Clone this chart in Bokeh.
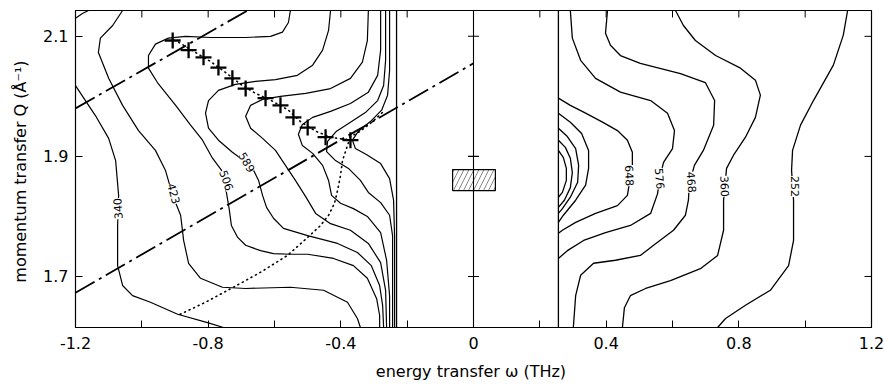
from math import pi
from bokeh.plotting import figure
from bokeh.models import Range1d, FixedTicker, Span, Label, PrintfTickFormatter
from bokeh.embed import file_html
from bokeh.resources import INLINE

# ---------------- axes ----------------
omega_range = [-1.2, 1.2]
q_range = [1.615, 2.143]
omega_ticks = [-1.2, -0.8, -0.4, 0.0, 0.4, 0.8, 1.2]
omega_minor_ticks = [-1.0, -0.6, -0.2, 0.2, 0.6, 1.0]
omega_all_ticks = [-1.2, -1.0, -0.8, -0.6, -0.4, -0.2, 0.0, 0.2, 0.4, 0.6, 0.8, 1.0, 1.2]
q_ticks = [1.7, 1.9, 2.1]

# ---------------- excluded elastic region / resolution ----------------
gap_edges = [-0.232, 0.256]
centre_omega = [0.0, 0.0, 0.0]
centre_ticks_q = [1.7, 1.9, 2.1]
res_omega = [-0.063, 0.066]
res_q = [1.843, 1.878]

# ---------------- contours, energy loss side (omega < 0) ----------------
cA_w = [-1.200, -1.179, -1.161]
cA_q = [2.130, 2.138, 2.143]

c340_w = [-1.200, -1.140, -1.100, -1.079, -1.070, -1.073, -1.073, -1.058, -1.028, -0.974, -0.892, -0.802, -0.754]
c340_q = [2.018, 1.968, 1.930, 1.893, 1.835, 1.785, 1.718, 1.685, 1.668, 1.657, 1.637, 1.623, 1.615]

c423_w = [-1.058, -1.088, -1.125, -1.131, -1.100, -1.058, -1.010, -0.959, -0.929, -0.907, -0.883, -0.874,
          -0.859, -0.823, -0.757, -0.687, -0.552, -0.452, -0.380, -0.350, -0.341]
c423_q = [2.143, 2.118, 2.097, 2.073, 2.030, 1.985, 1.943, 1.910, 1.877, 1.835, 1.802, 1.760,
          1.722, 1.697, 1.682, 1.680, 1.682, 1.677, 1.657, 1.630, 1.615]

c506_w = [-0.552, -0.558, -0.576, -0.612, -0.687, -0.793, -0.868, -0.920, -0.959, -0.980, -0.980, -0.953,
          -0.898, -0.853, -0.817, -0.787, -0.760, -0.745, -0.736, -0.730, -0.711, -0.687, -0.642, -0.603,
          -0.552, -0.500, -0.422, -0.362, -0.320, -0.292, -0.283, -0.283]
c506_q = [2.143, 2.123, 2.107, 2.100, 2.098, 2.098, 2.100, 2.097, 2.087, 2.068, 2.047, 2.023,
          1.985, 1.952, 1.927, 1.897, 1.877, 1.840, 1.810, 1.785, 1.765, 1.752, 1.743, 1.738,
          1.737, 1.737, 1.730, 1.718, 1.697, 1.663, 1.635, 1.615]

c589_w = [-0.431, -0.437, -0.455, -0.485, -0.531, -0.597, -0.657, -0.718, -0.769, -0.799, -0.808, -0.799,
          -0.769, -0.727, -0.693, -0.666, -0.648, -0.636, -0.624, -0.603, -0.573, -0.500, -0.410, -0.350,
          -0.308, -0.283, -0.274, -0.271]
c589_q = [2.143, 2.110, 2.077, 2.052, 2.035, 2.028, 2.025, 2.020, 2.010, 1.993, 1.972, 1.947,
          1.927, 1.907, 1.893, 1.880, 1.860, 1.835, 1.815, 1.797, 1.780, 1.768, 1.755, 1.740,
          1.718, 1.685, 1.652, 1.615]

c672_w = [-0.317, -0.320, -0.335, -0.371, -0.431, -0.506, -0.582, -0.636, -0.672, -0.687, -0.672, -0.636,
          -0.597, -0.567, -0.537, -0.506, -0.476, -0.431, -0.371, -0.317, -0.280, -0.265, -0.262]
c672_q = [2.143, 2.093, 2.057, 2.030, 2.013, 2.005, 2.000, 1.995, 1.985, 1.967, 1.947, 1.930,
          1.910, 1.885, 1.860, 1.833, 1.805, 1.788, 1.777, 1.755, 1.723, 1.677, 1.615]

c755_w = [-0.280, -0.280, -0.289, -0.317, -0.371, -0.431, -0.485, -0.516, -0.528, -0.516, -0.485, -0.455,
          -0.437, -0.428, -0.401, -0.362, -0.320, -0.280, -0.262, -0.253, -0.253]
c755_q = [2.143, 2.077, 2.035, 2.007, 1.988, 1.975, 1.965, 1.953, 1.937, 1.918, 1.905, 1.885,
          1.860, 1.835, 1.822, 1.813, 1.800, 1.773, 1.727, 1.668, 1.615]

c838_w = [-0.265, -0.265, -0.271, -0.289, -0.326, -0.371, -0.413, -0.440, -0.443, -0.416, -0.377, -0.341,
          -0.317, -0.280, -0.253, -0.244, -0.244, -0.244]
c838_q = [2.143, 2.060, 2.018, 1.993, 1.973, 1.957, 1.942, 1.925, 1.908, 1.893, 1.880, 1.860,
          1.840, 1.823, 1.802, 1.768, 1.693, 1.615]

c921_w = [-0.253, -0.253, -0.259, -0.277, -0.311, -0.347, -0.365, -0.356, -0.323, -0.280, -0.253, -0.241,
          -0.238, -0.238]
c921_q = [2.143, 2.043, 2.002, 1.977, 1.958, 1.942, 1.927, 1.913, 1.903, 1.888, 1.863, 1.827,
          1.768, 1.615]

# ---------------- contours, energy gain side (omega > 0) ----------------
c252_w = [1.128, 1.115, 1.085, 1.025, 0.986, 0.962, 0.959, 0.965, 0.965, 0.950, 0.895, 0.820, 0.760, 0.736]
c252_q = [2.143, 2.102, 2.052, 1.993, 1.952, 1.910, 1.877, 1.827, 1.760, 1.718, 1.677, 1.652, 1.630, 1.615]

c360_w = [0.609, 0.633, 0.669, 0.730, 0.805, 0.850, 0.865, 0.850, 0.820, 0.784, 0.763, 0.754, 0.754,
          0.736, 0.684, 0.594, 0.519, 0.473, 0.455, 0.449]
c360_q = [2.143, 2.118, 2.093, 2.068, 2.047, 2.027, 2.002, 1.965, 1.932, 1.902, 1.880, 1.827, 1.777,
          1.735, 1.713, 1.693, 1.680, 1.668, 1.648, 1.615]

c468_w = [0.404, 0.398, 0.413, 0.443, 0.503, 0.624, 0.699, 0.727, 0.724, 0.693, 0.666, 0.651, 0.648,
          0.639, 0.603, 0.543, 0.503, 0.428, 0.362, 0.323, 0.308, 0.301]
c468_q = [2.143, 2.105, 2.085, 2.068, 2.055, 2.038, 2.023, 1.993, 1.952, 1.910, 1.885, 1.855, 1.827,
          1.802, 1.777, 1.752, 1.735, 1.727, 1.722, 1.702, 1.668, 1.615]

c576_w = [0.292, 0.298, 0.323, 0.368, 0.443, 0.534, 0.585, 0.606, 0.600, 0.573, 0.561, 0.555, 0.534,
          0.473, 0.398, 0.332, 0.283, 0.256]
c576_q = [2.143, 2.097, 2.060, 2.030, 2.007, 1.993, 1.972, 1.943, 1.913, 1.890, 1.863, 1.838, 1.805,
          1.785, 1.773, 1.760, 1.743, 1.730]

c648_w = [0.256, 0.292, 0.338, 0.389, 0.434, 0.464, 0.479, 0.479, 0.464, 0.434, 0.368, 0.308, 0.268, 0.256]
c648_q = [1.997, 1.985, 1.972, 1.957, 1.943, 1.927, 1.907, 1.885, 1.835, 1.818, 1.805, 1.790, 1.777, 1.772]

cin4_w = [0.256, 0.292, 0.326, 0.347, 0.347, 0.338, 0.308, 0.271, 0.256]
cin4_q = [1.972, 1.957, 1.938, 1.910, 1.880, 1.852, 1.827, 1.802, 1.790]
cin3_w = [0.256, 0.283, 0.308, 0.317, 0.314, 0.292, 0.268, 0.256]
cin3_q = [1.947, 1.933, 1.913, 1.885, 1.857, 1.832, 1.813, 1.805]
cin2_w = [0.256, 0.277, 0.292, 0.298, 0.292, 0.274, 0.256]
cin2_q = [1.927, 1.915, 1.897, 1.873, 1.848, 1.827, 1.815]
cin1_w = [0.256, 0.271, 0.280, 0.280, 0.268, 0.256]
cin1_q = [1.910, 1.898, 1.880, 1.860, 1.840, 1.832]

# ---------------- contour labels ----------------
left_labels = ["340", "423", "506", "589"]
left_label_w = [-1.072, -0.904, -0.745, -0.684]
left_label_q = [1.813, 1.838, 1.860, 1.890]
right_labels = ["648", "576", "468", "360", "252"]
right_label_w = [0.470, 0.561, 0.657, 0.757, 0.968]
right_label_q = [1.868, 1.863, 1.857, 1.850, 1.850]

# ---------------- measured peak positions (crosses) ----------------
peak_w = [-0.907, -0.859, -0.814, -0.769, -0.727, -0.687, -0.627, -0.582, -0.543, -0.500, -0.446, -0.371]
peak_q = [2.093, 2.077, 2.065, 2.048, 2.030, 2.013, 1.997, 1.985, 1.965, 1.948, 1.932, 1.927]

# ---------------- dotted dispersion curves ----------------
disp1_w = [-0.889, -0.838, -0.793, -0.748, -0.702, -0.657, -0.606, -0.558, -0.522, -0.476, -0.431,
           -0.386, -0.341, -0.304, -0.271]
disp1_q = [2.090, 2.073, 2.058, 2.040, 2.020, 2.005, 1.992, 1.977, 1.958, 1.942, 1.932,
           1.928, 1.942, 1.958, 1.975]
disp2_w = [-0.377, -0.395, -0.401, -0.410, -0.419, -0.437, -0.461, -0.500, -0.561, -0.642, -0.724, -0.808, -0.892]
disp2_q = [1.923, 1.893, 1.868, 1.843, 1.822, 1.802, 1.785, 1.765, 1.735, 1.707, 1.682, 1.657, 1.635]

# ---------------- dash-dot scan lines ----------------
scan1_w = [-1.2, -0.681]
scan1_q = [1.980, 2.143]
scan2_w = [-1.2, 0.0]
scan2_q = [1.673, 2.055]

# ======================================================
FONT = "DejaVu Sans"
p = figure(width=884, height=387, output_backend="svg", toolbar_location=None,
           x_range=Range1d(*omega_range), y_range=Range1d(*q_range),
           min_border_left=75, min_border_right=13, min_border_top=10, min_border_bottom=60)
p.background_fill_color = "white"
p.border_fill_color = "white"
p.outline_line_color = "black"
p.outline_line_width = 1.2
p.grid.visible = False

p.xaxis.ticker = FixedTicker(ticks=omega_ticks, minor_ticks=omega_minor_ticks)
p.xaxis.formatter = PrintfTickFormatter(format="%.1f")
p.xaxis.major_label_overrides = {0: "0"}
p.yaxis.ticker = FixedTicker(ticks=q_ticks)
p.yaxis.formatter = PrintfTickFormatter(format="%.1f")
for ax in (p.xaxis[0], p.yaxis[0]):
    ax.major_tick_in = 7
    ax.major_tick_out = 0
    ax.minor_tick_in = 7
    ax.minor_tick_out = 0
    ax.axis_line_color = "black"
    ax.major_tick_line_color = "black"
    ax.minor_tick_line_color = "black"
    ax.major_label_text_font = FONT
    ax.major_label_text_font_size = "16px"
    ax.major_label_text_color = "black"
    ax.axis_label_text_font = FONT
    ax.axis_label_text_font_size = "16px"
    ax.axis_label_text_font_style = "normal"
    ax.axis_label_text_color = "black"
p.xaxis.axis_label = "energy transfer  \u03c9 (THz)"
p.yaxis.axis_label = "momentum transfer  Q (\u00c5\u207b\u00b9)"
p.xaxis.major_label_standoff = 9
p.xaxis.axis_label_standoff = 10
p.yaxis.major_label_standoff = 7
p.yaxis.axis_label_standoff = 10

# inward ticks on the top and right frame edges (half of each marker is clipped by the frame)
p.scatter(omega_all_ticks, [q_range[1]] * len(omega_all_ticks), marker="dash", angle=pi / 2,
          size=14, line_color="black", line_width=1)
p.scatter([omega_range[1]] * len(q_ticks), q_ticks, marker="dash",
          size=14, line_color="black", line_width=1)

# elastic gap boundaries and centre line
for g in gap_edges:
    p.add_layout(Span(location=g, dimension="height", line_color="black", line_width=1.3))
p.add_layout(Span(location=centre_omega[0], dimension="height", line_color="black", line_width=1.1))
p.scatter(centre_omega, centre_ticks_q, marker="dash", size=11, line_color="black", line_width=1.1)
p.quad(left=[res_omega[0]], right=[res_omega[1]], bottom=[res_q[0]], top=[res_q[1]],
       fill_color="white", line_color="black", line_width=1.2,
       hatch_pattern="/", hatch_color="#555555", hatch_scale=10, hatch_weight=0.7)

# contours
left_xs = [cA_w, c340_w, c423_w, c506_w, c589_w, c672_w, c755_w, c838_w, c921_w]
left_ys = [cA_q, c340_q, c423_q, c506_q, c589_q, c672_q, c755_q, c838_q, c921_q]
right_xs = [c252_w, c360_w, c468_w, c576_w, c648_w, cin4_w, cin3_w, cin2_w, cin1_w]
right_ys = [c252_q, c360_q, c468_q, c576_q, c648_q, cin4_q, cin3_q, cin2_q, cin1_q]
p.multi_line(left_xs, left_ys, line_color="black", line_width=1.2, line_join="round")
p.multi_line(right_xs, right_ys, line_color="black", line_width=1.3, line_join="round")

# scan lines
p.line(scan1_w, scan1_q, line_color="black", line_width=1.8, line_dash="22 5 3 5")
p.line(scan2_w, scan2_q, line_color="black", line_width=1.8, line_dash="22 5 3 5")

# dotted dispersion curves
p.line(disp1_w, disp1_q, line_color="black", line_width=1.6, line_dash="1 4", line_cap="round")
p.line(disp2_w, disp2_q, line_color="black", line_width=1.6, line_dash="1 4", line_cap="round")

# peaks
p.scatter(peak_w, peak_q, marker="cross", size=16, line_color="black", line_width=2.3)

# contour labels
left_angles = [95, -75, -70, -60]
for t, x, y, a in zip(left_labels, left_label_w, left_label_q, left_angles):
    p.add_layout(Label(x=x, y=y, text=t, angle=a, angle_units="deg", text_align="center",
                       text_baseline="middle", text_font=FONT, text_font_size="11px",
                       text_color="black", background_fill_color="white"))
right_angles = [-88, -85, -85, -88, -90]
for t, x, y, a in zip(right_labels, right_label_w, right_label_q, right_angles):
    p.add_layout(Label(x=x, y=y, text=t, angle=a, angle_units="deg", text_align="center",
                       text_baseline="middle", text_font=FONT, text_font_size="11px",
                       text_color="black", background_fill_color="white"))

open("out.html", "w").write(file_html(p, INLINE))
